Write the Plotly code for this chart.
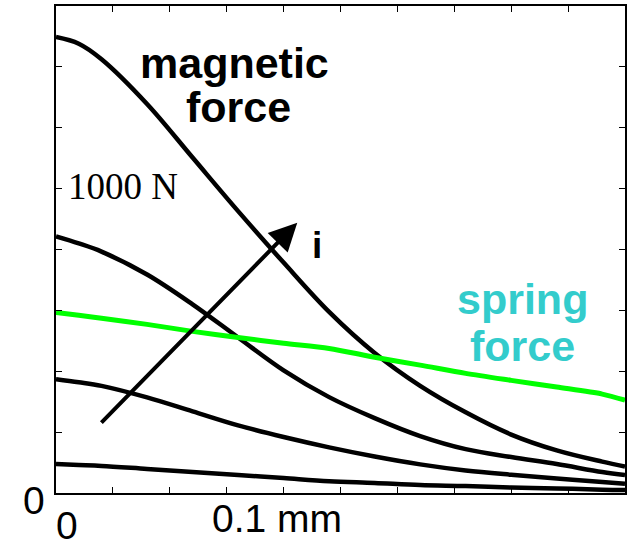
import plotly.graph_objects as go

# displacement in mm
x_mm = [0.0, 0.01, 0.02, 0.04, 0.06, 0.08, 0.10, 0.12, 0.14, 0.16, 0.18, 0.20, 0.22, 0.24, 0.25]

# magnetic force curves (N) for increasing current i
mag_i1 = [95, 92, 89, 79, 69, 59, 49, 39, 33, 26, 23, 18, 15, 11, 10]
mag_i2 = [374, 364, 352, 314, 268, 222, 184, 150, 120, 94, 74, 60, 48, 36, 30]
mag_i3 = [843, 820, 793, 718, 620, 511, 403, 315, 246, 187, 144, 118, 95, 69, 59]
mag_i4 = [1498, 1476, 1425, 1278, 1102, 926, 757, 595, 460, 352, 265, 192, 140, 103, 87]

# spring force (N)
spring = [593, 584, 574, 554, 531, 511, 492, 475, 446, 420, 393, 370, 348, 325, 305]

x_range = [0, 0.25]
y_range = [0, 1600]
x_tick_step = 0.025
y_tick_step = 200

# arrow for increasing current (data coords)
arrow_tail = (0.0193, 226)
arrow_head = (0.106, 888)

# label texts
label_mag = ["magnetic", "force"]
label_spring = ["spring", "force"]
label_current = "i"
label_force_unit = "1000 N"
label_y0 = "0"
label_x0 = "0"
label_x1 = "0.1 mm"

fig = go.Figure()
for ys in [mag_i1, mag_i2, mag_i3, mag_i4]:
    fig.add_trace(go.Scatter(x=x_mm, y=ys, mode="lines",
                             line=dict(color="black", width=4.5, shape="spline", smoothing=1.0),
                             showlegend=False, hoverinfo="skip"))
fig.add_trace(go.Scatter(x=x_mm, y=spring, mode="lines",
                         line=dict(color="#00ff00", width=5, shape="spline", smoothing=0.8),
                         showlegend=False, hoverinfo="skip"))

axis_common = dict(showgrid=False, zeroline=False, showticklabels=False,
                   ticks="inside", ticklen=6, tickwidth=1, tickcolor="black",
                   showline=True, linecolor="black", linewidth=2, mirror="ticks")
fig.update_xaxes(range=x_range, dtick=x_tick_step, tick0=0, **axis_common)
fig.update_yaxes(range=y_range, dtick=y_tick_step, tick0=0, **axis_common)

bold = dict(family="Liberation Sans, Arial", size=43, color="black", weight="bold")
cyan = dict(family="Liberation Sans, Arial", size=43, color="#33cccc", weight="bold")
plain = dict(family="Liberation Sans, Arial", size=39, color="black")
serif = dict(family="Liberation Serif, Times New Roman", size=37, color="black")

ann = []
def add(text, x, y, font):
    ann.append(dict(text=text, x=x, y=y, xref="paper", yref="paper",
                    xanchor="center", yanchor="middle", showarrow=False,
                    borderpad=0, font=font))

add(label_mag[0], 0.3144, 0.8820, bold)
add(label_mag[1], 0.3214, 0.7918, bold)
add(label_spring[0], 0.8205, 0.3984, cyan)
add(label_spring[1], 0.8196, 0.3020, cyan)
add(label_current, 0.4588, 0.5074, dict(bold, size=37))
add(label_force_unit, 0.1173, 0.6303, serif)
add(label_y0, -0.0385, -0.0164, plain)
add(label_x0, 0.0201, -0.0660, plain)
add(label_x1, 0.3888, -0.0533, plain)

ann.append(dict(x=arrow_head[0], y=arrow_head[1], ax=arrow_tail[0], ay=arrow_tail[1],
                xref="x", yref="y", axref="x", ayref="y", showarrow=True,
                arrowhead=2, arrowsize=1.4, arrowwidth=4, arrowcolor="black", text=""))

fig.update_layout(width=631, height=545, margin=dict(l=56, r=4, t=5, b=52),
                  plot_bgcolor="white", paper_bgcolor="white", annotations=ann)

fig.write_html("out.html", config={"displayModeBar": False},
               post_script="document.body.style.margin='0';document.body.style.padding='0';")
